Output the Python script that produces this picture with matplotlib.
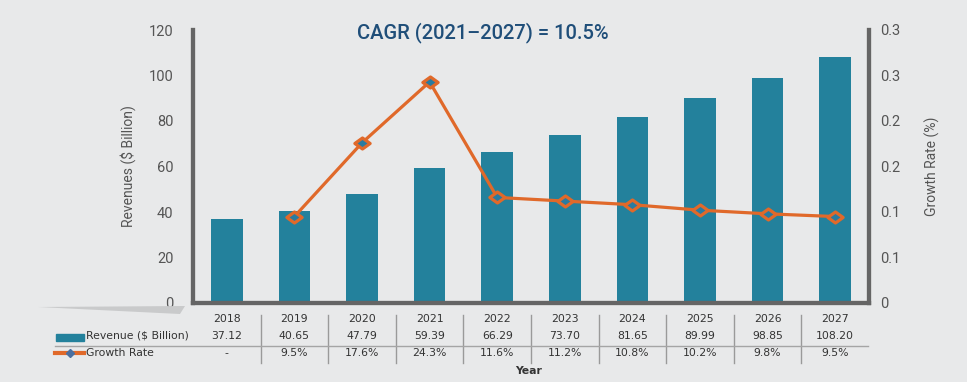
import matplotlib.pyplot as plt
from matplotlib.patches import Polygon, Rectangle
from matplotlib.lines import Line2D
from matplotlib.path import Path

# ----------------------------
# Data
# ----------------------------
years = ["2018", "2019", "2020", "2021", "2022", "2023", "2024", "2025", "2026", "2027"]
revenue = [37.12, 40.65, 47.79, 59.39, 66.29, 73.70, 81.65, 89.99, 98.85, 108.20]
growth = [None, 0.095, 0.176, 0.243, 0.116, 0.112, 0.108, 0.102, 0.098, 0.095]
growth_labels = ["-", "9.5%", "17.6%", "24.3%", "11.6%", "11.2%", "10.8%", "10.2%", "9.8%", "9.5%"]

left_ticks = [0, 20, 40, 60, 80, 100, 120]
right_ticks = [0, 0.05, 0.10, 0.15, 0.20, 0.25, 0.30]
right_tick_labels = ["0", "0.1", "0.1", "0.2", "0.2", "0.3", "0.3"]

title = "CAGR (2021\u20132027) = 10.5%"

# ----------------------------
# Styles
# ----------------------------
BG = "#e8e9ea"
BAR = "#23819c"
LINE = "#e0692a"
MARK_FACE = "#2a7ba0"
SPINE = "#656565"
TICK = "#555555"
TEXT = "#333333"

# slightly flattened diamond, like the original
diamond = Path([(-1, 0), (0, 0.72), (1, 0), (0, -0.72), (-1, 0)],
               [Path.MOVETO, Path.LINETO, Path.LINETO, Path.LINETO, Path.CLOSEPOLY])

W, H = 967, 382
fig = plt.figure(figsize=(W / 100, H / 100), dpi=100, facecolor=BG)

x0, x1, ytop, ybot = 193, 869, 30, 303
ax = fig.add_axes([x0 / W, 1 - ybot / H, (x1 - x0) / W, (ybot - ytop) / H])
ax.set_facecolor(BG)
ax2 = ax.twinx()

xs = list(range(len(years)))
ax.bar(xs, revenue, width=0.47, color=BAR, zorder=2)

gx = [x for x, g in zip(xs, growth) if g is not None]
gy = [g for g in growth if g is not None]
ax2.plot(gx, gy, color=LINE, lw=2.3, marker=diamond, markersize=11,
         markerfacecolor=MARK_FACE, markeredgecolor=LINE, markeredgewidth=2.3, zorder=3)

ax.set_xlim(-0.5, len(years) - 0.5)
ax.set_ylim(0, 120)
ax2.set_ylim(0, 0.3)
ax.set_xticks([])
ax.set_yticks(left_ticks)
ax.set_yticklabels([str(t) for t in left_ticks])
ax2.set_yticks(right_ticks)
ax2.set_yticklabels(right_tick_labels)

for a in (ax, ax2):
    a.tick_params(length=0, labelsize=10.5, colors=TICK)
    a.spines["top"].set_visible(False)
    for s in ("left", "right", "bottom"):
        a.spines[s].set_color(SPINE)
        a.spines[s].set_linewidth(3)
ax.tick_params(axis="y", pad=14)
ax2.tick_params(axis="y", pad=8)
for lab in ax.get_yticklabels() + ax2.get_yticklabels():
    lab.set_family("Roboto")

ax.set_ylabel("Revenues ($ Billion)", fontsize=10, color=TICK, family="Roboto")
ax2.set_ylabel("Growth Rate (%)", fontsize=10, color=TICK, family="Roboto")
ax2.yaxis.set_label_coords(1.082, 0.5)
ax.yaxis.set_label_coords(-0.084, 0.5)

fig.text(483 / W, 1 - 33 / H, title, ha="center", va="center", fontsize=14.5,
         color="#1f4e79", family="Roboto", fontweight="medium")

# ----------------------------
# Data table under the plot
# ----------------------------
row_y = {"year": 1 - 319 / H, "rev": 1 - 336 / H, "gr": 1 - 353 / H}
for i, yr in enumerate(years):
    fx = (x0 + (i + 0.5) * (x1 - x0) / len(years)) / W
    fig.text(fx, row_y["year"], yr, ha="center", va="center", fontsize=7.8, color=TEXT)
    fig.text(fx, row_y["rev"], f"{revenue[i]:.2f}", ha="center", va="center", fontsize=7.8, color=TEXT)
    fig.text(fx, row_y["gr"], growth_labels[i], ha="center", va="center", fontsize=7.8, color=TEXT)
    if i > 0:
        bx = (x0 + i * (x1 - x0) / len(years)) / W
        fig.add_artist(Line2D([bx, bx], [1 - 315 / H, 1 - 363 / H], color="#9a9a9a", lw=1))

fig.add_artist(Line2D([55 / W, 868 / W], [1 - 346 / H, 1 - 346 / H], color="#a5a5a5", lw=1))

fig.text(86 / W, row_y["rev"], "Revenue ($ Billion)", ha="left", va="center", fontsize=7.8, color=TEXT)
fig.text(86 / W, row_y["gr"], "Growth Rate", ha="left", va="center", fontsize=7.8, color=TEXT)
fig.add_artist(Rectangle((56 / W, 1 - 341 / H), 28 / W, 7 / H, color=BAR))
fig.add_artist(Line2D([55 / W, 84 / W], [row_y["gr"], row_y["gr"]], color=LINE, lw=3))
fig.add_artist(Line2D([69.5 / W], [row_y["gr"]], color="#4a6fa0", marker="D",
                      markersize=4, lw=0))

fig.text(529 / W, 1 - 371 / H, "Year", ha="center", va="center", fontsize=7.8,
         color=TEXT, fontweight="bold")

# light grey wedge at the lower left
fig.add_artist(Polygon([(38 / W, 1 - 307 / H), (185 / W, 1 - 306 / H),
                        (180 / W, 1 - 314 / H)], closed=True, color="#c9cacb", lw=0))

fig.savefig("out.png", dpi=100, facecolor=BG)
